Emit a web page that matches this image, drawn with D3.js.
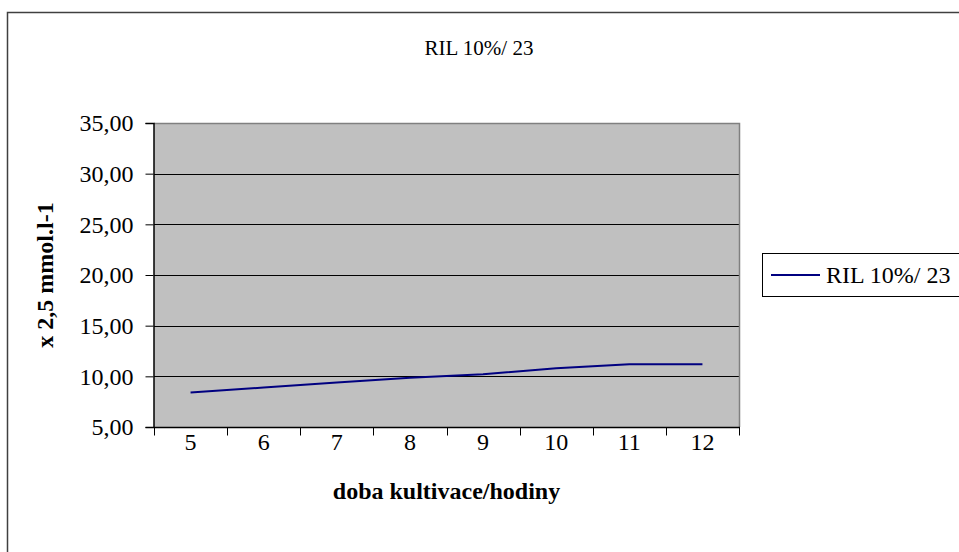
<!DOCTYPE html>
<html>
<head>
  <meta charset="utf-8">
  <title>RIL 10%/ 23</title>
  <style>
    body { margin: 0; background: #fff; }
    svg text { font-family: "Liberation Serif", "DejaVu Serif", serif !important; fill: #000; }
    .grid line { stroke: #000; stroke-width: 1px; }
  </style>
</head>
<body>
  <svg width="959" height="552"></svg>
  <script src="https://d3js.org/d3.v7.min.js"></script>
  <script>
    // Data
    var hours = [5, 6, 7, 8, 9, 10, 11, 12];
    var values = [8.4, 8.9, 9.4, 9.85, 10.2, 10.8, 11.2, 11.2];
    var yTicks = [5, 10, 15, 20, 25, 30, 35];
    var seriesName = "RIL 10%/ 23";

    var serif = "'Liberation Serif', 'DejaVu Serif', serif";
    var svg = d3.select("svg");

    // outer chart border (runs off the right/bottom of the frame)
    svg.append("rect")
      .attr("x", 7.5).attr("y", 12.5)
      .attr("width", 1000).attr("height", 600)
      .attr("fill", "#fff").attr("stroke", "#404040").attr("stroke-width", 1.5);

    var plot = { left: 154, top: 123, right: 739, bottom: 427 };

    var x = d3.scaleBand().domain(hours).range([plot.left, plot.right]);
    var y = d3.scaleLinear().domain([5, 35]).range([plot.bottom, plot.top]);

    // plot area
    svg.append("rect")
      .attr("x", plot.left).attr("y", plot.top)
      .attr("width", plot.right - plot.left).attr("height", plot.bottom - plot.top)
      .attr("fill", "#c0c0c0");

    // gridlines
    svg.append("g").attr("class", "grid")
      .selectAll("line").data(yTicks.slice(1, -1))
      .enter().append("line")
      .attr("x1", plot.left).attr("x2", plot.right)
      .attr("y1", function (d) { return Math.round(y(d)) + 0.5; })
      .attr("y2", function (d) { return Math.round(y(d)) + 0.5; });

    // top/right frame of plot area
    svg.append("path")
      .attr("d", "M" + plot.left + "," + (plot.top + 0.5) + "H" + (plot.right + 0.5) + "V" + plot.bottom)
      .attr("fill", "none").attr("stroke", "#808080").attr("stroke-width", 1.5);

    // y axis
    var yAxis = d3.axisLeft(y).tickValues(yTicks).tickSize(8).tickPadding(12)
      .tickFormat(function (d) { return d3.format(".2f")(d).replace(".", ","); });
    var gy = svg.append("g").attr("transform", "translate(" + (plot.left - 0.5) + ",0)").call(yAxis)
      .attr("font-family", serif);
    gy.select(".domain").attr("stroke", "#000").attr("stroke-width", 1.5);
    gy.selectAll(".tick line").attr("stroke", "#000");
    gy.selectAll(".tick text").style("font-size", "24px").style("font-family", serif).attr("fill", "#000");

    // x axis: ticks at category boundaries
    var gx = svg.append("g").attr("transform", "translate(0," + (plot.bottom + 0.5) + ")");
    gx.append("line").attr("x1", plot.left).attr("x2", plot.right + 1)
      .attr("stroke", "#000").attr("stroke-width", 1.5);
    var bounds = hours.map(function (h) { return x(h); }).concat([x(hours[hours.length - 1]) + x.bandwidth()]);
    gx.selectAll(".bt").data(bounds).enter().append("line")
      .attr("x1", function (d) { return Math.round(d) + 0.5; })
      .attr("x2", function (d) { return Math.round(d) + 0.5; })
      .attr("y1", 0).attr("y2", 8).attr("stroke", "#000");
    gx.selectAll(".lbl").data(hours).enter().append("text")
      .attr("x", function (d) { return x(d) + x.bandwidth() / 2; })
      .attr("y", 22).attr("text-anchor", "middle")
      .style("font-family", serif).style("font-size", "24px").text(function (d) { return d; });

    // series line
    var line = d3.line()
      .x(function (d, i) { return x(hours[i]) + x.bandwidth() / 2; })
      .y(function (d) { return y(d); });
    svg.append("path").datum(values)
      .attr("d", line).attr("fill", "none")
      .attr("stroke", "#000080").attr("stroke-width", 2);

    // title
    svg.append("text").attr("x", 479).attr("y", 55).attr("text-anchor", "middle")
      .style("font-family", serif).style("font-size", "21px").text(seriesName);

    // axis titles
    svg.append("text").attr("x", (plot.left + plot.right) / 2).attr("y", 499)
      .attr("text-anchor", "middle").style("font-family", serif)
      .style("font-size", "24px").style("font-weight", "bold")
      .text("doba kultivace/hodiny");
    svg.append("text")
      .attr("transform", "translate(53," + ((plot.top + plot.bottom) / 2) + ") rotate(-90)")
      .attr("text-anchor", "middle").style("font-family", serif)
      .style("font-size", "24px").style("font-weight", "bold")
      .text("x 2,5 mmol.l-1");

    // legend
    var lg = svg.append("g").attr("transform", "translate(762,253)");
    lg.append("rect").attr("x", 0.5).attr("y", 0.5).attr("width", 300).attr("height", 43)
      .attr("fill", "#fff").attr("stroke", "#000").attr("stroke-width", 1);
    lg.append("line").attr("x1", 9).attr("x2", 58).attr("y1", 22).attr("y2", 22)
      .attr("stroke", "#000080").attr("stroke-width", 2);
    lg.append("text").attr("x", 64).attr("y", 30).style("font-family", serif)
      .style("font-size", "24px").text(seriesName);
  </script>
</body>
</html>
